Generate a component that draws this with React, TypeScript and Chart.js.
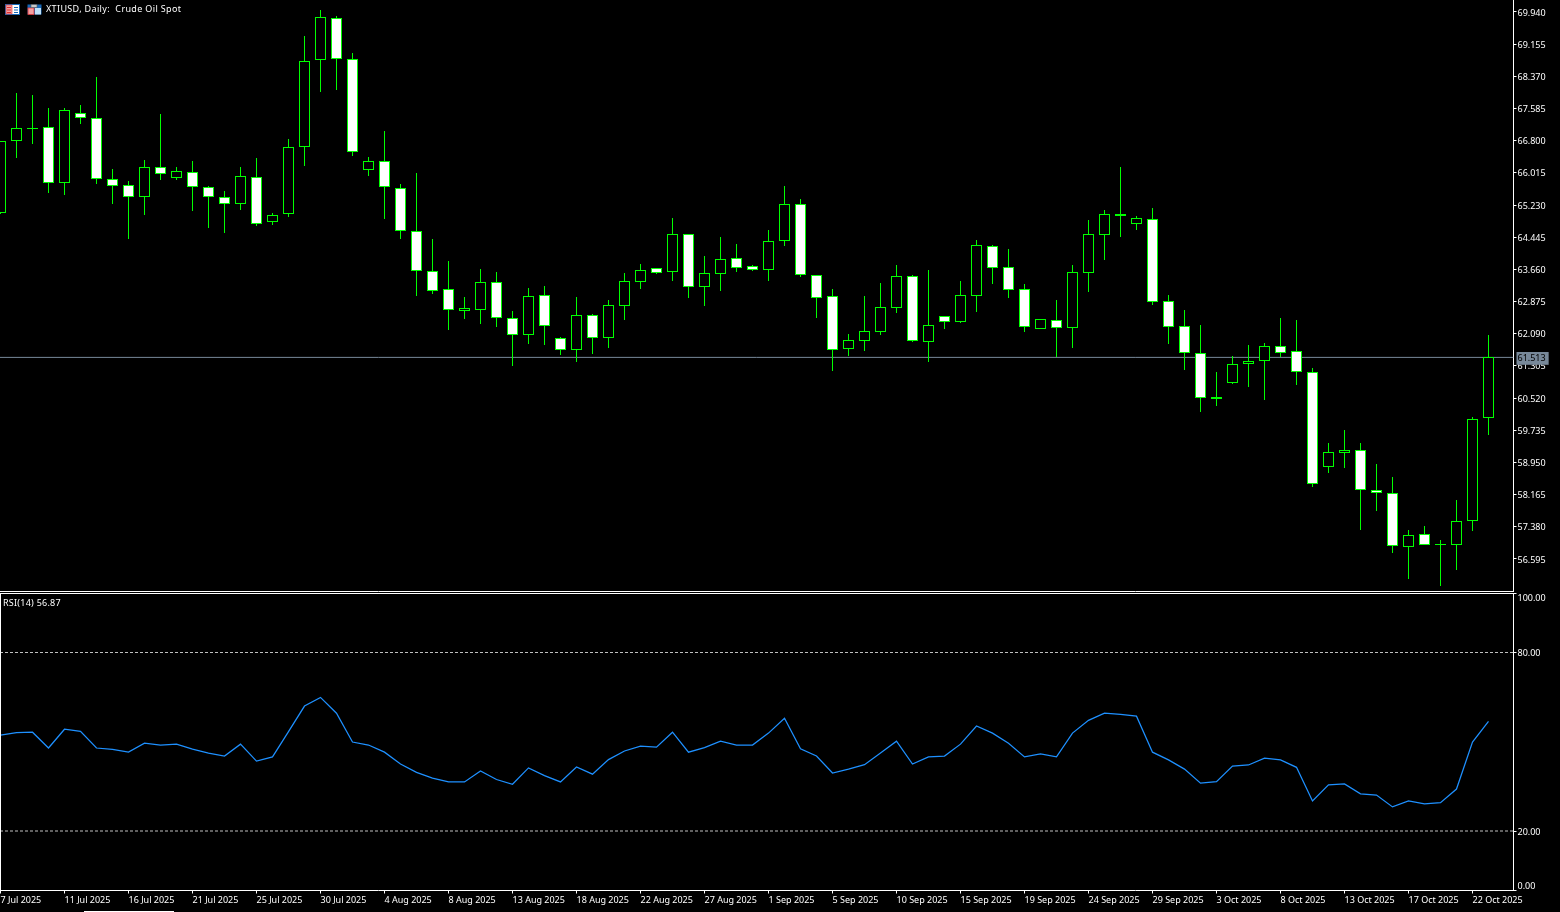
import React, { useEffect, useRef } from "react";
import { Chart, registerables } from "chart.js";

Chart.register(...registerables);

const dates = [
  "7 Jul 2025","8 Jul 2025","9 Jul 2025","10 Jul 2025","11 Jul 2025","13 Jul 2025","14 Jul 2025","15 Jul 2025",
  "16 Jul 2025","17 Jul 2025","18 Jul 2025","20 Jul 2025","21 Jul 2025","22 Jul 2025","23 Jul 2025","24 Jul 2025",
  "25 Jul 2025","27 Jul 2025","28 Jul 2025","29 Jul 2025","30 Jul 2025","31 Jul 2025","1 Aug 2025","3 Aug 2025",
  "4 Aug 2025","5 Aug 2025","6 Aug 2025","7 Aug 2025","8 Aug 2025","10 Aug 2025","11 Aug 2025","12 Aug 2025",
  "13 Aug 2025","14 Aug 2025","15 Aug 2025","17 Aug 2025","18 Aug 2025","19 Aug 2025","20 Aug 2025","21 Aug 2025",
  "22 Aug 2025","24 Aug 2025","25 Aug 2025","26 Aug 2025","27 Aug 2025","28 Aug 2025","29 Aug 2025","31 Aug 2025",
  "1 Sep 2025","2 Sep 2025","3 Sep 2025","4 Sep 2025","5 Sep 2025","7 Sep 2025","8 Sep 2025","9 Sep 2025",
  "10 Sep 2025","11 Sep 2025","12 Sep 2025","14 Sep 2025","15 Sep 2025","16 Sep 2025","17 Sep 2025","18 Sep 2025",
  "19 Sep 2025","21 Sep 2025","22 Sep 2025","23 Sep 2025","24 Sep 2025","25 Sep 2025","26 Sep 2025","28 Sep 2025",
  "29 Sep 2025","30 Sep 2025","1 Oct 2025","2 Oct 2025","3 Oct 2025","5 Oct 2025","6 Oct 2025","7 Oct 2025",
  "8 Oct 2025","9 Oct 2025","10 Oct 2025","12 Oct 2025","13 Oct 2025","14 Oct 2025","15 Oct 2025","16 Oct 2025",
  "17 Oct 2025","19 Oct 2025","20 Oct 2025","21 Oct 2025","22 Oct 2025","23 Oct 2025",
];

const opens = [
  65.027,66.784,67.115,67.126,65.759,67.467,67.345,65.857,65.711,65.418,66.150,65.881,66.028,65.662,65.418,65.247,
  65.906,64.808,65.003,66.638,68.760,69.785,68.784,66.076,66.296,65.637,64.588,63.629,63.173,62.653,62.677,63.344,
  62.466,62.067,63.027,61.978,61.701,62.539,61.994,62.775,63.360,63.686,63.604,64.515,63.238,63.556,63.930,63.734,
  63.653,64.361,65.247,63.531,63.002,61.726,61.921,62.141,62.726,63.490,61.897,62.515,62.385,63.019,64.222,63.710,
  63.173,62.214,62.417,62.238,63.580,64.507,64.971,64.775,64.881,62.881,62.271,61.612,60.506,60.896,61.344,61.417,
  61.783,61.661,61.148,58.831,59.172,59.245,58.269,58.197,56.879,57.196,56.928,56.928,57.513,60.026,
];
const highs = [
  66.800,67.955,67.906,67.589,67.589,67.662,68.345,66.101,65.808,66.320,67.443,66.150,66.296,65.686,65.564,66.150,
  66.369,65.027,66.833,69.346,69.980,69.834,68.931,66.394,67.028,65.735,66.003,64.393,63.856,62.978,63.661,63.588,
  62.637,63.198,63.246,62.002,62.978,62.563,62.905,63.564,63.783,63.686,64.905,64.515,63.978,64.442,64.271,63.759,
  64.613,65.694,65.369,63.531,63.173,62.075,63.002,63.320,63.759,63.515,63.637,62.515,63.368,64.369,64.247,64.149,
  63.295,62.441,62.905,63.759,64.857,65.101,66.150,64.954,65.149,63.027,62.661,62.295,61.148,61.539,61.807,61.856,
  62.466,62.417,61.246,59.416,59.734,59.416,58.904,58.587,57.294,57.391,57.050,58.026,60.051,62.051,
];
const lows = [
  65.000,66.385,66.727,65.532,65.483,67.215,65.751,65.263,64.409,64.995,65.849,65.849,65.093,64.678,64.556,65.117,
  64.727,64.751,64.946,66.190,67.996,68.044,66.434,65.946,64.897,64.409,63.019,63.068,62.189,62.458,62.336,62.263,
  61.311,61.848,61.823,61.579,61.409,61.604,61.750,62.433,63.190,63.556,63.385,62.970,62.775,63.141,63.604,63.629,
  63.385,64.239,63.482,62.482,61.189,61.555,61.677,62.067,62.604,61.897,61.409,62.214,62.360,62.628,63.312,62.970,
  62.141,62.214,61.514,61.750,63.116,63.897,64.458,64.629,62.799,61.848,61.214,60.189,60.335,60.872,60.799,60.482,
  61.514,60.848,58.359,58.701,58.823,57.310,57.774,56.749,56.115,56.928,55.944,56.334,57.286,59.628,
];
const closes = [
  66.784,67.101,67.101,65.759,67.540,67.345,65.857,65.686,65.418,66.150,65.979,66.052,65.662,65.418,65.247,65.930,
  64.759,64.979,66.638,68.736,69.809,68.784,66.516,66.296,65.662,64.588,63.629,63.141,62.677,62.710,63.344,62.482,
  62.067,63.002,62.287,61.701,62.539,61.994,62.783,63.368,63.637,63.580,64.515,63.238,63.564,63.905,63.702,63.653,
  64.344,65.247,63.531,62.970,61.701,61.929,62.149,62.734,63.490,61.921,62.295,62.385,63.027,64.247,63.702,63.165,
  62.263,62.441,62.238,63.588,64.515,65.003,65.003,64.905,62.872,62.263,61.612,60.514,60.539,61.344,61.417,61.783,
  61.628,61.148,58.416,59.197,59.245,58.269,58.197,56.903,57.172,56.928,56.952,57.513,60.002,61.513,
];
const rsiValues = [
  52.2,53.1,53.2,47.9,54.2,53.5,47.9,47.4,46.5,49.5,48.9,49.2,47.5,46.2,45.2,49.2,
  43.5,44.9,53.4,62.0,64.9,59.6,49.9,48.9,46.5,42.5,39.7,37.8,36.5,36.5,40.2,37.3,
  35.7,41.2,38.6,36.5,41.5,39.1,44.0,46.9,48.5,48.2,53.2,46.5,48.0,50.2,48.9,48.9,
  52.9,57.9,47.6,45.2,39.5,40.8,42.3,46.2,50.2,42.5,44.9,45.2,49.2,55.3,52.9,49.5,
  44.9,45.9,44.9,52.9,57.2,59.6,59.2,58.6,46.5,43.9,40.8,36.1,36.6,41.8,42.2,44.5,
  43.9,41.4,30.1,35.5,35.8,32.5,32.1,28.1,30.1,29.1,29.5,34.1,49.9,56.87,
];
const priceTicks = [
  69.94,69.155,68.37,67.585,66.8,66.015,65.23,64.445,63.66,62.875,62.09,61.305,60.52,59.735,58.95,58.165,57.38,56.595,
];
const lastPrice = 61.513;
const rsiTicks = [100, 80, 20, 0];
const rsiLevels = [80, 20];
const priceRange = [55.814, 70.232];
const title = "XTIUSD, Daily:  Crude Oil Spot";
const rsiTitle = "RSI(14) 56.87";

const FONT = { family: "'Noto Sans', sans-serif", size: 9 };
const GREEN = "#00ff00";
const WHITE = "#ffffff";
const XMIN = -1 / 32;
const XMAX = 94.5625;
const AXIS_W = 46.5;
const xIdx = dates.map((_, i) => i);
const tickIdx = xIdx.filter((i) => i % 4 === 0);

const snapBars = {
  id: "snapBars",
  beforeDatasetsDraw(chart: any) {
    chart.getSortedVisibleDatasetMetas().forEach((m: any) => {
      if (m.type !== "bar") return;
      m.data.forEach((el: any) => {
        el.y = Math.round(el.y);
        el.base = Math.round(el.base);
        if (el.y === el.base) el.base += 1;
      });
    });
  },
};

const rsiFrame = {
  id: "rsiFrame",
  afterDraw(chart: any) {
    const { ctx, chartArea: a } = chart;
    ctx.save();
    ctx.fillStyle = WHITE;
    ctx.fillRect(0, a.top, 1, a.bottom - a.top);
    ctx.fillRect(0, a.top, a.right, 1);
    ctx.restore();
  },
};

const nudgeLabels = {
  id: "nudgeLabels",
  beforeDraw(chart: any) {
    const s = chart.scales.y;
    s.getLabelItems(chart.chartArea).forEach((it: any) => {
      it.options.translation[1] += 1;
      if (it.label === "100.00") it.options.translation[1] += 4;
      if (it.label === "0.00") it.options.translation[1] -= 5;
    });
  },
};

const noPad = (s: any) => {
  s.paddingTop = 0;
  s.paddingBottom = 0;
  s.paddingLeft = 0;
  s.paddingRight = 0;
};

const xScale = (showTicks: boolean, height: number) => ({
  type: "linear" as const,
  offset: false,
  min: XMIN,
  max: XMAX,
  afterBuildTicks(s: any) {
    s.ticks = tickIdx.map((value) => ({ value }));
  },
  afterFit(s: any) {
    s.height = height;
    noPad(s);
  },
  border: { color: WHITE, width: 1 },
  grid: { offset: false, drawOnChartArea: false, drawTicks: showTicks, tickLength: 3, tickColor: WHITE, color: WHITE },
  ticks: {
    display: showTicks,
    autoSkip: false,
    maxRotation: 0,
    align: "start" as const,
    padding: 2,
    color: WHITE,
    font: FONT,
    callback: (v: any) => dates[v] ?? "",
  },
});

function App() {
  const mainRef = useRef<HTMLCanvasElement>(null);
  const rsiRef = useRef<HTMLCanvasElement>(null);

  useEffect(() => {
    document.body.style.margin = "0";
    document.body.style.background = "#000";
    document.body.style.overflow = "hidden";

    const main = new Chart(mainRef.current!, {
      type: "bar",
      plugins: [snapBars, nudgeLabels],
      data: {
        datasets: [
          {
            label: "Body",
            order: 0,
            data: xIdx.map((i) => ({ x: i, y: [opens[i], closes[i]] })),
            backgroundColor: xIdx.map((i) => (closes[i] >= opens[i] ? "#000000" : WHITE)),
            borderColor: GREEN,
            borderWidth: 1,
            borderSkipped: false,
            inflateAmount: 0,
            barThickness: 11,
            grouped: false,
          } as any,
          {
            label: "Wick",
            order: 1,
            data: xIdx.map((i) => ({ x: i, y: [lows[i], highs[i]] })),
            backgroundColor: GREEN,
            borderWidth: 0,
            inflateAmount: 0,
            barThickness: 1,
            grouped: false,
          } as any,
          {
            type: "line",
            label: "Last",
            order: 2,
            data: [
              { x: XMIN, y: lastPrice },
              { x: XMAX, y: lastPrice },
            ],
            borderColor: "#778899",
            borderWidth: 1,
            pointRadius: 0,
          } as any,
        ],
      },
      options: {
        animation: false,
        responsive: false,
        devicePixelRatio: 1,
        layout: { padding: 0 },
        plugins: { legend: { display: false }, title: { display: false }, tooltip: { enabled: false } },
        scales: {
          x: xScale(false, 1),
          y: {
            position: "right",
            min: priceRange[0],
            max: priceRange[1],
            afterBuildTicks(s: any) {
              s.ticks = [...priceTicks, lastPrice].map((value) => ({ value }));
            },
            afterFit(s: any) {
              s.width = AXIS_W;
              noPad(s);
            },
            border: { color: WHITE, width: 1 },
            grid: {
              drawOnChartArea: false,
              tickLength: 3,
              tickColor: (c: any) => (c.tick?.value === lastPrice ? "transparent" : WHITE),
            },
            ticks: {
              autoSkip: false,
              padding: 1,
              font: FONT,
              color: (c: any) => (c.tick?.value === lastPrice ? "#000000" : WHITE),
              showLabelBackdrop: (c: any) => c.tick?.value === lastPrice,
              backdropColor: "#778899",
              backdropPadding: { top: 1, bottom: 1, left: 1, right: 3 },
              callback: (v: any) => Number(v).toFixed(3),
            },
          },
        },
      } as any,
    });

    const rsi = new Chart(rsiRef.current!, {
      type: "line",
      plugins: [rsiFrame, nudgeLabels],
      data: {
        datasets: [
          {
            label: "RSI",
            data: xIdx.map((i) => ({ x: i, y: rsiValues[i] })),
            borderColor: "#1e90ff",
            borderWidth: 1.25,
            pointRadius: 0,
            tension: 0,
          },
          ...rsiLevels.map((lv) => ({
            label: `Level ${lv}`,
            data: [
              { x: XMIN, y: lv },
              { x: XMAX, y: lv },
            ],
            borderColor: "#c0c0c0",
            borderWidth: 1,
            borderDash: [3, 2],
            pointRadius: 0,
          })),
        ],
      },
      options: {
        animation: false,
        responsive: false,
        devicePixelRatio: 1,
        layout: { padding: { top: 1 } },
        plugins: { legend: { display: false }, title: { display: false }, tooltip: { enabled: false } },
        scales: {
          x: xScale(true, 21.5),
          y: {
            position: "right",
            min: 0,
            max: 100,
            afterBuildTicks(s: any) {
              s.ticks = rsiTicks.map((value) => ({ value }));
            },
            afterFit(s: any) {
              s.width = AXIS_W;
              noPad(s);
            },
            border: { color: WHITE, width: 1 },
            grid: { drawOnChartArea: false, tickLength: 3, tickColor: WHITE },
            ticks: {
              autoSkip: false,
              padding: 1,
              font: FONT,
              color: WHITE,
              callback: (v: any) => Number(v).toFixed(2),
            },
          },
        },
      } as any,
    });

    return () => {
      main.destroy();
      rsi.destroy();
    };
  }, []);

  const textStyle: React.CSSProperties = {
    position: "absolute",
    color: "#fff",
    font: "9px 'Noto Sans', sans-serif",
    whiteSpace: "pre",
    lineHeight: "12px",
  };

  return (
    <div style={{ position: "relative", width: 1560, height: 912, background: "#000", overflow: "hidden" }}>
      <canvas ref={mainRef} width={1560} height={592} style={{ position: "absolute", left: 0, top: 0, width: 1560, height: 592 }} />
      <canvas ref={rsiRef} width={1560} height={320} style={{ position: "absolute", left: 0, top: 592, width: 1560, height: 320 }} />
      <svg width={40} height={12} style={{ position: "absolute", left: 5, top: 4 }}>
        <rect x={0.5} y={0.5} width={14} height={10} fill="#fff" stroke="#1668b8" />
        <rect x={1} y={1} width={6} height={9} fill="#f4a0a0" stroke="#e03030" strokeWidth={0.6} />
        <path d="M2 3.5h4M2 6h4M2 8.5h4" stroke="#e03030" />
        <path d="M9 3.5h4M9 6h4M9 8.5h4" stroke="#1668b8" />
        <rect x={22.5} y={0.5} width={14} height={10} fill="#1668b8" />
        <rect x={23} y={4} width={6} height={6.5} fill="#f4a0a0" stroke="#e03030" strokeWidth={0.8} />
        <rect x={30} y={4} width={6} height={6.5} fill="#bfe0f8" />
        <rect x={26} y={0.5} width={6} height={3} fill="#c8c8c8" stroke="#555" strokeWidth={0.6} />
      </svg>
      <div style={{ ...textStyle, left: 46, top: 3, letterSpacing: 0.35 }}>{title}</div>
      <div style={{ ...textStyle, left: 3, top: 597, letterSpacing: 0.25 }}>{rsiTitle}</div>
      <div style={{ position: "absolute", left: 84, top: 911, width: 90, height: 1, background: "#fff" }} />
    </div>
  );
}

export default App;
